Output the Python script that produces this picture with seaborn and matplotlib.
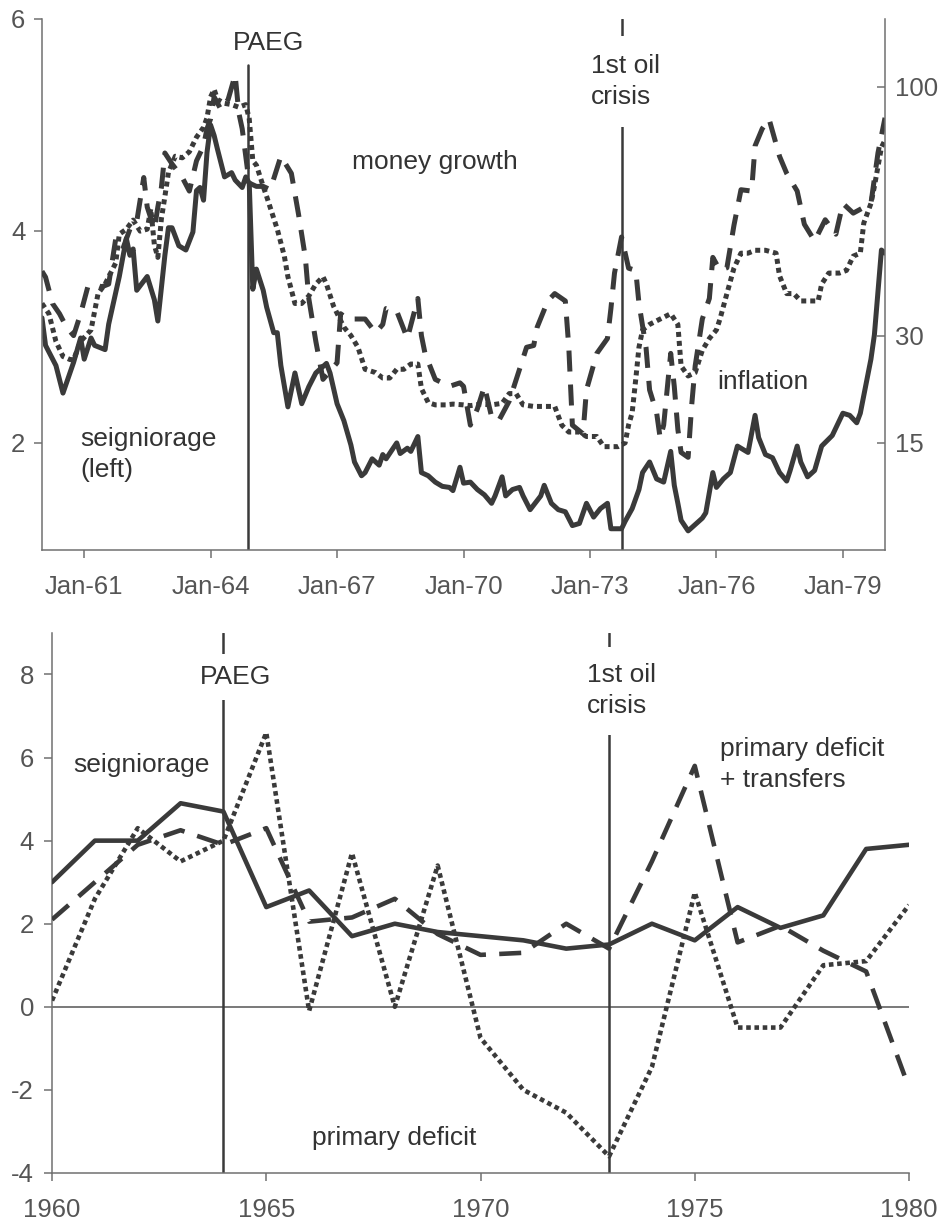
import numpy as np
import pandas as pd
import seaborn as sns
import matplotlib.pyplot as plt
from matplotlib.ticker import NullLocator

# ---- top panel: monthly data, given as month offsets from Jan 1960 ----
seign_month = [0, 1, 4, 6, 9, 11, 12, 14, 15, 18, 19, 22, 24, 25, 26, 27, 30, 32, 33, 35,
               36, 37, 39, 41, 43, 44, 45, 46, 47, 48, 49, 50, 52, 54, 55, 57, 58, 59, 60, 61,
               63, 64, 66, 67, 68, 70, 72, 74, 76, 78, 81, 82, 84, 86, 88, 89, 91, 92, 94, 96,
               97, 98, 101, 102, 104, 105, 107, 108, 110, 112, 114, 116, 117, 119, 120, 122, 124, 126, 128, 129,
               131, 132, 134, 136, 137, 139, 142, 143, 145, 147, 149, 151, 153, 155, 157, 159, 161, 162, 165, 166,
               168, 170, 171, 173, 175, 177, 179, 180, 181, 182, 184, 186, 188, 189, 191, 192, 194, 196, 198, 201,
               203, 204, 206, 208, 210, 212, 213, 215, 216, 218, 220, 222, 225, 228, 230, 232, 233, 236, 237, 239,
               240]
seign_val = [3.18, 2.92, 2.73, 2.47, 2.76, 2.99, 2.79, 2.99, 2.92, 2.88, 3.12, 3.57, 3.93, 3.77, 3.83, 3.44, 3.57, 3.35, 3.15, 3.77,
             4.03, 4.03, 3.86, 3.82, 3.99, 4.38, 4.41, 4.29, 4.74, 5.0, 4.9, 4.77, 4.51, 4.55, 4.48, 4.41, 4.51, 4.45, 3.45, 3.64,
             3.44, 3.28, 3.04, 3.04, 2.73, 2.34, 2.66, 2.37, 2.53, 2.66, 2.75, 2.66, 2.37, 2.21, 1.98, 1.82, 1.69, 1.72, 1.85, 1.79,
             1.89, 1.85, 2.0, 1.9, 1.95, 1.92, 2.06, 1.72, 1.69, 1.63, 1.59, 1.58, 1.55, 1.77, 1.62, 1.63, 1.56, 1.51, 1.43, 1.50,
             1.68, 1.50, 1.56, 1.58, 1.50, 1.37, 1.50, 1.60, 1.43, 1.37, 1.35, 1.22, 1.24, 1.43, 1.30, 1.38, 1.43, 1.19, 1.19, 1.26,
             1.38, 1.56, 1.72, 1.82, 1.66, 1.63, 1.92, 1.60, 1.43, 1.27, 1.17, 1.23, 1.29, 1.34, 1.72, 1.58, 1.66, 1.72, 1.97, 1.91,
             2.26, 2.05, 1.89, 1.86, 1.72, 1.64, 1.74, 1.97, 1.82, 1.68, 1.74, 1.97, 2.07, 2.28, 2.26, 2.19, 2.28, 2.79, 3.02, 3.82,
             3.79]

money_month = [0, 1, 3, 5, 7, 9, 11, 13, 15, 17, 19, 21, 23, 25, 27, 29, 30, 32, 33, 34,
               35, 37, 40, 42, 44, 46, 47, 48, 49, 51, 53, 55, 56, 57, 59, 61, 63, 65, 68, 71,
               73, 75, 76, 78, 80, 84, 85, 87, 89, 92, 95, 97, 98, 101, 104, 107, 108, 109, 112, 116,
               119, 120, 122, 124, 126, 128, 130, 133, 136, 138, 140, 141, 144, 146, 149, 150, 151, 154, 155, 158,
               161, 162, 163, 165, 167, 169, 170, 172, 173, 175, 176, 177, 179, 180, 181, 182, 184, 185, 186, 188,
               190, 191, 193, 195, 197, 199, 202, 203, 205, 207, 210, 212, 215, 217, 220, 223, 226, 228, 231, 236,
               238, 240]
money_val = [42.8, 41.5, 36, 34, 31.5, 30, 34, 39.4, 40, 39.4, 40, 50.5, 48, 53, 55, 67.7, 59, 53, 59, 64.7,
             75.6, 72, 67.7, 63.6, 73, 78, 84, 87.6, 96, 91, 95, 105, 90, 84, 66, 65, 65, 64, 74.5, 69,
             57, 46, 37, 29, 23, 25.5, 34, 33, 33, 33, 30.5, 32, 35, 34.5, 29.5, 37, 30, 27, 23, 22,
             22.5, 22, 17, 19, 22, 18, 17.5, 20, 24.5, 28, 28.3, 31.5, 36.5, 38, 36.5, 28, 17, 16, 21.5, 27,
             29.5, 35, 42.4, 51, 43.5, 43, 36, 28, 21.5, 18.5, 15.5, 17, 27, 22, 16.5, 14, 13.5, 19.5, 25, 33,
             37, 46, 43, 43.6, 54, 64, 63.6, 78, 84, 87.6, 74.5, 69, 63.6, 54.3, 50, 55.5, 51.7, 60, 57.3, 60,
             75.6, 88]

infl_month = [0, 2, 4, 6, 8, 9, 11, 14, 16, 18, 21, 22, 24, 26, 28, 30, 31, 32, 33, 34,
              35, 36, 38, 40, 42, 44, 46, 47, 48, 49, 50, 52, 54, 56, 58, 59, 60, 61, 63, 64,
              67, 69, 70, 72, 74, 76, 78, 80, 81, 83, 86, 88, 90, 92, 95, 97, 99, 101, 103, 105,
              107, 108, 110, 112, 115, 117, 120, 122, 125, 128, 131, 133, 135, 137, 140, 143, 146, 148, 150, 153,
              155, 158, 160, 162, 164, 166, 167, 168, 169, 170, 171, 173, 176, 179, 181, 182, 184, 186, 188, 190,
              192, 193, 195, 197, 199, 201, 203, 206, 209, 210, 212, 214, 216, 219, 221, 222, 224, 227, 229, 231,
              233, 234, 236, 237, 239, 240]
infl_val = [36, 34, 29, 26.5, 26, 26, 29, 31, 38, 40, 44.7, 51.7, 53, 55.4, 52.5, 53, 58.5, 49, 46, 55.8,
            62, 69.3, 74.5, 74, 76, 81, 84.5, 88, 96, 99, 95, 93.5, 93, 92, 93, 87.6, 73, 71.6, 65, 62,
            53, 46.3, 41.6, 36, 36, 37.5, 40, 41.6, 40, 35.5, 31.5, 30, 28, 24.5, 24, 23.2, 23.2, 24.5, 24.5, 25.3,
            25.3, 21.7, 19.8, 19.5, 19.5, 19.6, 19.5, 19.4, 19.6, 19.5, 19.7, 21, 21, 19.5, 19.3, 19.3, 19.3, 17, 16.2, 16.2,
            15.7, 15.7, 14.6, 14.6, 14.6, 15, 17, 18.5, 23, 28, 31, 32, 33, 34, 32, 25, 23.5, 24, 27.5, 29.5,
            31, 33, 38, 43.5, 47, 47, 47.7, 47.7, 47, 41.8, 38, 38, 36.5, 36.5, 36.5, 40, 42.4, 42.4, 43, 46.3,
            47, 54.6, 60, 65, 77.5, 80]

top_ticks = ["1961-01-01", "1964-01-01", "1967-01-01", "1970-01-01",
             "1973-01-01", "1976-01-01", "1979-01-01"]
top_tick_labels = ["Jan-61", "Jan-64", "Jan-67", "Jan-70", "Jan-73", "Jan-76", "Jan-79"]
right_ticks = [15, 30, 100]

# ---- bottom panel: annual data ----
years = list(range(1960, 1981))
seign_year = [3.0, 4.0, 4.0, 4.9, 4.7, 2.4, 2.8, 1.7, 2.0, 1.8, 1.7,
              1.6, 1.4, 1.5, 2.0, 1.6, 2.4, 1.9, 2.2, 3.8, 3.9]
prim_def = [0.15, 2.6, 4.3, 3.5, 4.0, 6.6, -0.1, 3.7, 0.0, 3.4, -0.75,
            -2.0, -2.55, -3.6, -1.45, 2.75, -0.5, -0.5, 1.0, 1.1, 2.45]
prim_def_tr = [2.1, 3.0, 3.9, 4.25, 3.9, 4.3, 2.05, 2.15, 2.6, 1.75, 1.25,
               1.3, 2.0, 1.4, 3.5, 5.8, 1.55, 1.95, 1.35, 0.85, -1.95]


def to_dates(months):
    return pd.to_datetime([f"{1960 + m // 12}-{m % 12 + 1:02d}-01" for m in months])


def fwd(v):
    return np.power(np.clip(v, 1e-6, None), 0.3)


def inv(v):
    return np.power(np.clip(v, 1e-6, None), 1 / 0.3)


sns.set_style("ticks")
plt.rcParams["font.family"] = ["Liberation Sans", "DejaVu Sans"]
plt.rcParams["axes.unicode_minus"] = False

INK = "#3a3a3a"
GREY = "#555555"
DASH = (0, (4.2, 2.6))
DOT = (0, (1, 0.8))

fig = plt.figure(figsize=(9.41, 12.24), dpi=100)

# ---------------- top panel ----------------
ax = fig.add_axes([0.0446, 0.5507, 0.8959, 0.4338])
ax2 = ax.twinx()

sns.lineplot(x=to_dates(seign_month), y=seign_val, ax=ax, color=INK, lw=3.6,
             solid_joinstyle="round", zorder=2)
sns.lineplot(x=to_dates(money_month), y=money_val, ax=ax2, color=INK, lw=3.6,
             linestyle=DASH)
sns.lineplot(x=to_dates(infl_month), y=infl_val, ax=ax2, color=INK, lw=3.6,
             linestyle=DOT)

ax.set_xlim(pd.Timestamp("1960-01-01"), pd.Timestamp("1980-01-01"))
ax.set_ylim(0.99, 6.0)
ax.set_yticks([2, 4, 6])
ax2.set_yscale("function", functions=(fwd, inv))
ax2.set_ylim(6.26, 130.4)
ax2.set_yticks(right_ticks)
ax2.set_yticklabels([str(t) for t in right_ticks])
ax2.yaxis.set_minor_locator(NullLocator())
ax.set_xticks(pd.to_datetime(top_ticks))
ax.set_xticklabels(top_tick_labels)

for a in (ax, ax2):
    a.set_xlabel("")
    a.set_ylabel("")
    a.spines["top"].set_visible(False)
ax.spines["right"].set_visible(False)
ax2.spines["left"].set_visible(False)
ax2.spines["bottom"].set_visible(False)
for s in ("left", "bottom"):
    ax.spines[s].set_color("#707070")
    ax.spines[s].set_linewidth(1.1)
ax2.spines["right"].set_color("#707070")
ax2.spines["right"].set_linewidth(1.1)

ax.tick_params(axis="both", direction="out", length=6, width=1.1, color="#707070",
               labelcolor=GREY, labelsize=18.5)
ax.tick_params(axis="x", pad=12)
ax.tick_params(axis="y", pad=6)
ax2.tick_params(axis="y", direction="in", length=6, width=1.1, color="#707070",
                labelcolor=GREY, labelsize=18.5, pad=7)

paeg_m = pd.Timestamp("1964-11-20")
oil_m = pd.Timestamp("1973-10-05")
ax.axvline(paeg_m, ymax=0.913, color=INK, lw=1.8, zorder=1)
ax.axvline(oil_m, color=INK, lw=1.8, zorder=1)

box = dict(facecolor="white", edgecolor="none")
ax.text(pd.Timestamp("1964-07-12"), 5.77, "PAEG", fontsize=19, color="#333333",
        ha="left", va="center", zorder=1.5)
ax.text(pd.Timestamp("1973-01-08"), 5.41, "1st oil\ncrisis", fontsize=19, color="#333333",
        ha="left", va="center", linespacing=1.35, zorder=1.5, bbox=dict(box, pad=13))
ax.text(pd.Timestamp("1967-05-10"), 4.65, "money growth", fontsize=19, color="#333333",
        ha="left", va="center")
ax.text(pd.Timestamp("1976-01-05"), 2.57, "inflation", fontsize=19, color="#333333",
        ha="left", va="center")
ax.text(pd.Timestamp("1960-11-25"), 1.89, "seigniorage\n(left)", fontsize=19, color="#333333",
        ha="left", va="center", linespacing=1.38)

# ---------------- bottom panel ----------------
ax3 = fig.add_axes([0.0553, 0.0417, 0.9107, 0.4412])
ax3.axhline(0, color=GREY, lw=1.1, zorder=1)
ax3.axvline(1964, color=INK, lw=1.8, zorder=1)
ax3.axvline(1973, color=INK, lw=1.8, zorder=1)

sns.lineplot(x=years, y=seign_year, ax=ax3, color=INK, lw=3.3, zorder=3)
sns.lineplot(x=years, y=prim_def, ax=ax3, color=INK, lw=3.3, linestyle=DOT, zorder=3)
sns.lineplot(x=years, y=prim_def_tr, ax=ax3, color=INK, lw=3.3,
             linestyle=(0, (4.8, 2.9)), zorder=3)

ax3.set_xlim(1960, 1980)
ax3.set_ylim(-4, 9)
ax3.set_xticks([1960, 1965, 1970, 1975, 1980])
ax3.set_yticks([-4, -2, 0, 2, 4, 6, 8])
ax3.set_xlabel("")
ax3.set_ylabel("")
sns.despine(ax=ax3)
for s in ("left", "bottom"):
    ax3.spines[s].set_color("#707070")
    ax3.spines[s].set_linewidth(1.1)
ax3.tick_params(axis="both", direction="out", length=6, width=1.1, color="#707070",
                labelcolor=GREY, labelsize=18.5)
ax3.tick_params(axis="x", pad=12)
ax3.tick_params(axis="y", pad=7)

ax3.text(1963.45, 7.93, "PAEG", fontsize=19, color="#333333", ha="left", va="center",
         zorder=1.5, bbox=dict(box, pad=8))
ax3.text(1972.49, 7.61, "1st oil\ncrisis", fontsize=19, color="#333333", ha="left",
         va="center", linespacing=1.35, zorder=1.5, bbox=dict(box, pad=12))
ax3.text(1960.49, 5.83, "seigniorage", fontsize=19, color="#333333", ha="left", va="center")
ax3.text(1975.59, 5.83, "primary deficit\n+ transfers", fontsize=19, color="#333333",
         ha="left", va="center", linespacing=1.35)
ax3.text(1966.07, -3.16, "primary deficit", fontsize=19, color="#333333", ha="left",
         va="center")

fig.savefig("out.png", dpi=100)
